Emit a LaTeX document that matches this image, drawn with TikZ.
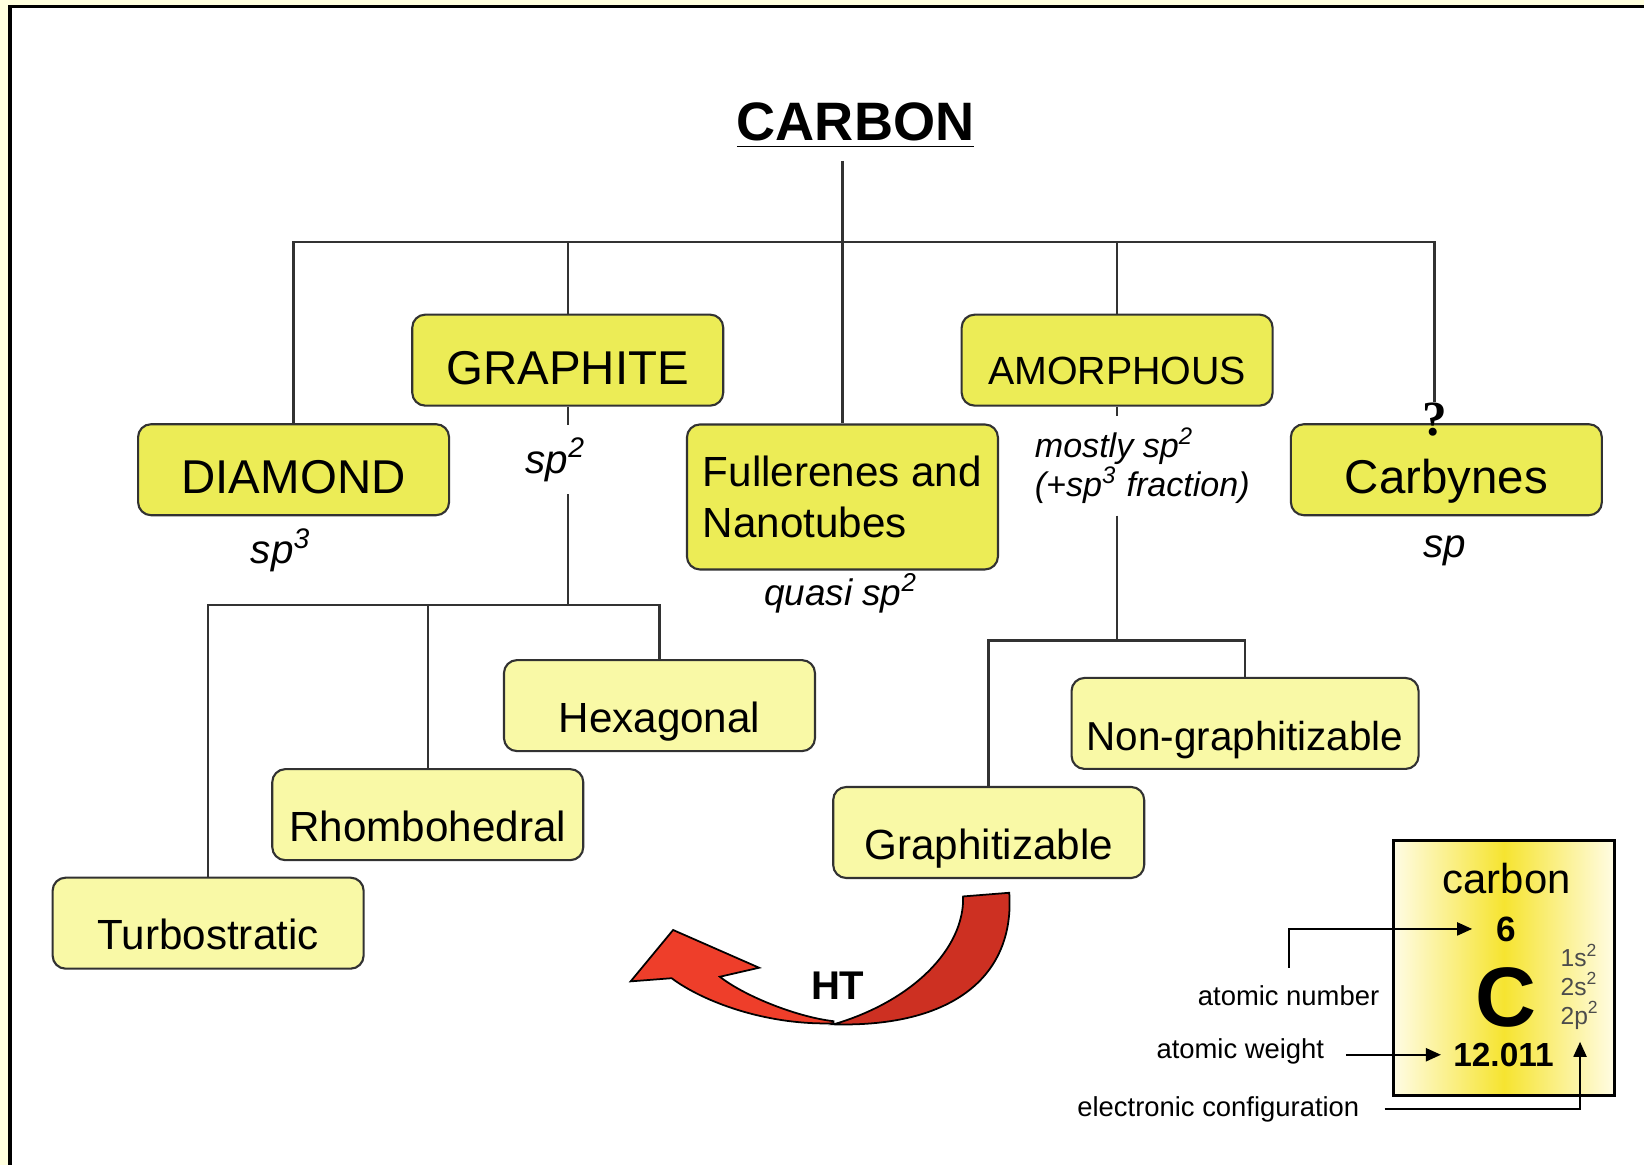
\documentclass[tikz,border=0pt]{standalone}
\usepackage{fontspec}
\setmainfont{Liberation Sans}
\newfontfamily\qfont{Liberation Serif}
\usetikzlibrary{arrows.meta}
\definecolor{bigbox}{RGB}{236,236,86}
\definecolor{subfill}{RGB}{249,249,166}
\definecolor{edge}{RGB}{50,50,50}
\definecolor{frame}{RGB}{255,255,222}
\definecolor{htred}{RGB}{238,62,42}
\definecolor{htdark}{RGB}{205,48,34}
\definecolor{tileyel}{RGB}{246,228,48}
\definecolor{tilepale}{RGB}{255,252,228}
\newcommand{\fsz}[2]{\fontsize{#1}{#2}\selectfont}

\begin{document}
\begin{tikzpicture}[x=1.0485cm,y=1.0485cm,
  mainbox/.style={draw=edge,line width=0.6pt,fill=bigbox,rounded corners=1.3mm,
    minimum width=3.11cm,minimum height=0.91cm,inner sep=2pt,font=\fsz{13.5}{16},
    text height=13.8pt,text depth=0pt},
  subbox/.style={mainbox,fill=subfill,font=\fsz{12}{14},text height=15.2pt},
  link/.style={draw=edge,line width=0.7pt},
  hyb/.style={font=\itshape\fsz{11.5}{13}},
  note/.style={font=\fsz{7.8}{9},inner sep=1pt},
  ptr/.style={line width=0.6pt,-{Triangle[length=1.5mm,width=1.3mm]}}]
\useasboundingbox (0,0) rectangle (15.68,-11.11);
\fill[frame] (0,0) rectangle (15.68,-11.11);
\fill[white] (0.095,-0.06) rectangle (15.68,-11.11);
\draw[line width=1pt] (0.095,-11.11) |- (15.68,-0.06);

\node[font=\bfseries\fsz{15.4}{18}] (carbon) at (8.16,-1.20) {\underline{CARBON}};
\coordinate (top) at (8.04,-2.31);
\coordinate (gbar) at (5.415,-5.77);
\coordinate (abar) at (10.655,-6.11);

\node[mainbox] (diamond) at (2.80,-4.48) {DIAMOND};
\node[mainbox] (graphite) at (5.415,-3.435) {GRAPHITE};
\node[mainbox,minimum height=1.45cm,align=left,font=\fsz{12}{14.3},text height=,text depth=] (fuller) at (8.035,-4.74) {Fullerenes and\\Nanotubes};
\node[mainbox,font=\fsz{11.2}{13}] (amorph) at (10.655,-3.435) {AMORPHOUS};
\node[mainbox] (carbynes) at (13.795,-4.48) {Carbynes};
\node[font=\qfont\bfseries\fsz{14}{16},inner sep=0pt] (qmark) at (13.68,-4.00) {?};

\node[subbox] (hexa) at (6.29,-6.73) {Hexagonal};
\node[subbox] (rhombo) at (4.08,-7.77) {Rhombohedral};
\node[subbox] (turbo) at (1.985,-8.805) {Turbostratic};
\node[subbox,minimum width=3.47cm,font=\fsz{11.5}{14}] (nongraph) at (11.875,-6.90) {Non-graphitizable};
\node[subbox] (graphz) at (9.43,-7.94) {Graphitizable};

\node[hyb] (sp3) at (2.68,-5.25) {sp\textsuperscript{3}};
\node[hyb,inner ysep=3.5pt] (sp2g) at (5.30,-4.385) {sp\textsuperscript{2}};
\node[hyb,font=\itshape\fsz{10.5}{12}] (quasi) at (8.02,-5.66) {quasi sp\textsuperscript{2}};
\node[hyb,font=\itshape\fsz{9.7}{11},align=left] (amix) at (10.895,-4.44) {mostly sp\textsuperscript{2}\\(+sp\textsuperscript{3} fraction)};
\node[hyb] (sp1) at (13.78,-5.25) {sp};

\draw[link] (fuller |- carbon.south) -- (fuller);
\draw[link] (diamond) |- (qmark |- top) -- (qmark);
\draw[link] (graphite) -- (graphite |- top);
\draw[link] (amorph) -- (amorph |- top);
\draw[link] (graphite) -- (graphite |- sp2g.north);
\draw[link] (graphite |- sp2g.south) -- (gbar);
\draw[link] (turbo) |- (hexa |- gbar) -- (hexa);
\draw[link] (rhombo) -- (rhombo |- gbar);
\draw[link] (amorph) -- (amorph |- amix.north);
\draw[link] (amorph |- amix.south) -- (abar);
\draw[link] (graphz) |- (nongraph |- abar) -- (nongraph);

\filldraw[fill=htred,draw=black,line width=0.5pt] (7.95,-9.74) .. controls (7.60,-9.70) and (7.10,-9.50) .. (6.866,-9.316)
  -- (7.24,-9.23) -- (6.42,-8.87) -- (6.015,-9.36) -- (6.406,-9.33)
  .. controls (6.70,-9.55) and (7.30,-9.78) .. (7.95,-9.76) -- cycle;
\filldraw[fill=htdark,draw=black,line width=0.5pt] (9.626,-8.515) .. controls (9.68,-9.30) and (9.10,-9.80) .. (7.95,-9.77)
  .. controls (8.70,-9.55) and (9.20,-9.05) .. (9.186,-8.55) -- cycle;
\node[font=\bfseries\fsz{11.4}{13}] (ht) at (7.99,-9.40) {HT};

\node[draw,line width=0.8pt,left color=tilepale,right color=tilepale,middle color=tileyel,
  minimum width=2.21cm,minimum height=2.55cm] (tile) at (14.345,-9.235) {};
\node[font=\fsz{11.9}{14}] (cname) at (14.37,-8.38) {carbon};
\node[font=\bfseries\fsz{10}{12}] (anum) at (14.37,-8.86) {6};
\node[font=\bfseries\fsz{24}{28}] (csym) at (14.36,-9.51) {C};
\node[font=\fsz{7}{8.2},text=black!70,align=left] (conf) at (15.07,-9.41) {1s\textsuperscript{2}\\2s\textsuperscript{2}\\2p\textsuperscript{2}};
\node[font=\bfseries\fsz{9.5}{11}] (awt) at (14.34,-10.06) {12.011};

\node[note] (nlbl) at (12.29,-9.50) {atomic number};
\node[note] (wlbl) at (11.83,-10.03) {atomic weight};
\node[note] (clbl) at (11.62,-10.58) {electronic configuration};
\draw[ptr,shorten >=3.5pt] ([yshift=4pt]nlbl.north) |- (anum.west);
\draw[ptr,shorten <=5pt] (wlbl.east |- awt.west) -- (awt.west);
\draw[ptr,shorten <=6pt] (clbl.east) -| (conf.south);
\end{tikzpicture}
\end{document}
